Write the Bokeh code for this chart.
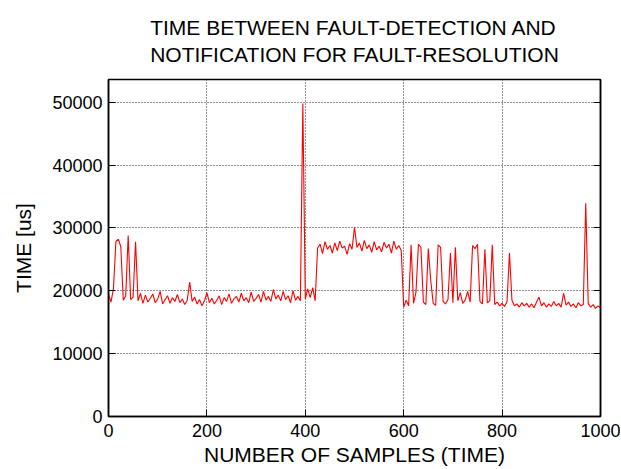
from bokeh.plotting import figure
from bokeh.models import Title, LinearAxis, Range1d, CustomJSTickFormatter
from bokeh.embed import file_html
from bokeh.resources import INLINE

# ---- data ----
samples = list(range(0, 1001, 5))
time_us = [
    19500, 18200, 20300, 27800, 28200, 27000, 18500, 19200, 28800, 18600,   # 0-45
    19000, 27800, 18400, 19600, 18000, 19300, 18200, 18800, 19500, 18100,   # 50-95
    18700, 19900, 17900, 18600, 19200, 18000, 18900, 18300, 19400, 18100,   # 100-145
    18700, 17800, 18500, 21400, 18300, 19000, 17900, 18600, 17600, 18400,   # 150-195
    19700, 18100, 18800, 17900, 18500, 19200, 17800, 18900, 18300, 19500,   # 200-245
    18000, 18700, 19100, 18200, 19600, 18400, 18900, 18100, 19800, 18300,   # 250-295
    18800, 19400, 18200, 19900, 18500, 19100, 18300, 20200, 18700, 19300,   # 300-345
    18400, 19900, 18600, 19200, 18100, 20000, 18500, 19100, 18400, 49800,   # 350-395
    18700, 20300, 18900, 20500, 18400, 26800, 27400, 25900, 27800, 26600,   # 400-445
    27200, 26000, 27600, 26400, 27900, 26800, 27100, 25800, 27500, 26600,   # 450-495
    30100, 26900, 27600, 26300, 28000, 26700, 27300, 26100, 27800, 26500,   # 500-545
    27100, 26200, 27700, 26800, 27400, 26000, 27900, 26600, 27200, 26400,   # 550-595
    17400, 18500, 17600, 27300, 18000, 19800, 27400, 26900, 18200, 17800,   # 600-645
    26700, 21600, 18000, 17700, 27300, 26900, 18300, 17900, 18600, 26000,   # 650-695
    18100, 26900, 18400, 19700, 18000, 18500, 19900, 18200, 27200, 26700,   # 700-745
    27400, 18300, 17900, 26600, 18100, 18400, 27300, 17800, 18200, 17600,   # 750-795
    18000, 17500, 18300, 26000, 18500, 17600, 17900, 17400, 18100, 17600,   # 800-845
    18000, 17400, 17900, 17300, 18200, 19000, 17600, 18100, 17400, 17900,   # 850-895
    17500, 18300, 17600, 18000, 17400, 19600, 17700, 18200, 17500, 17900,   # 900-945
    17300, 18100, 17600, 17800, 33900, 18000, 17400, 17800, 17200, 17600,   # 950-995
    17300,                                                                  # 1000
]
x_ticks = [0, 200, 400, 600, 800, 1000]
y_ticks = [0, 10000, 20000, 30000, 40000, 50000]
title_lines = ["TIME BETWEEN FAULT-DETECTION AND", "NOTIFICATION FOR FAULT-RESOLUTION"]
x_label = "NUMBER OF SAMPLES (TIME)"
y_label = "TIME [us]"

FONT = "Liberation Sans"

p = figure(width=620, height=469, output_backend="svg", toolbar_location=None,
           title=None,
           x_range=Range1d(0, 1000), y_range=Range1d(0, 53600),
           min_border_left=108, min_border_right=20, min_border_top=79, min_border_bottom=53)

p.add_layout(Title(text="\n".join(title_lines), align="center", text_font=FONT,
                   text_color="black", text_font_size="21px", text_font_style="normal",
                   text_line_height=1.2, vertical_align="top", standoff=22), "above")

p.line(samples, time_us, line_color="#ff0000", line_width=1.1)

p.outline_line_color = "black"
p.outline_line_width = 1.5
p.background_fill_color = "white"
p.border_fill_color = "white"

for ax, ticks, lab in ((p.xaxis[0], x_ticks, x_label), (p.yaxis[0], y_ticks, y_label)):
    ax.ticker = ticks
    ax.axis_label = lab
    ax.axis_label_text_font = FONT
    ax.axis_label_text_font_size = "21px"
    ax.axis_label_text_font_style = "normal"
    ax.major_label_text_font = FONT
    ax.major_label_text_font_size = "18px"
    ax.major_tick_in = 7
    ax.major_tick_out = 0
    ax.minor_tick_line_color = None
    ax.axis_line_color = "black"
    ax.axis_line_width = 1.5
    ax.major_tick_line_color = "black"
    ax.major_label_text_color = "black"
    ax.axis_label_text_color = "black"

p.xaxis[0].major_label_standoff = 7
p.xaxis[0].axis_label_standoff = 3
p.yaxis[0].major_label_standoff = 6
p.yaxis[0].axis_label_standoff = 14

ra = LinearAxis(ticker=y_ticks, formatter=CustomJSTickFormatter(code="return ''"),
                major_tick_in=7, major_tick_out=0, minor_tick_line_color=None,
                axis_line_color="black", axis_line_width=1.5, major_label_standoff=0)
p.add_layout(ra, "right")

for g in (p.xgrid[0], p.ygrid[0]):
    g.grid_line_color = "#222222"
    g.grid_line_dash = "1 2"
    g.grid_line_width = 1

open("out.html", "w").write(file_html(p, INLINE))
